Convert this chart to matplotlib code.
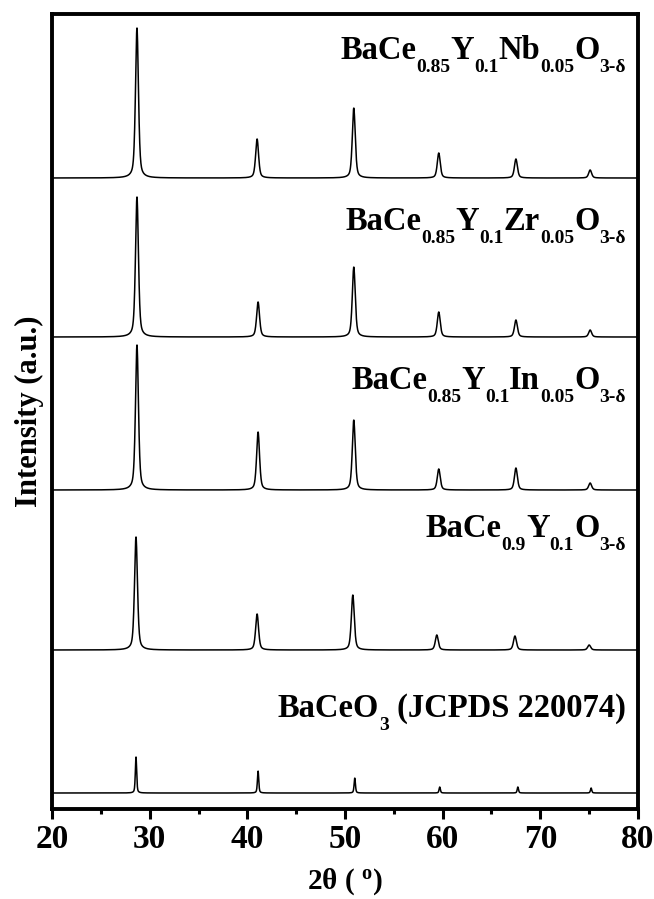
import numpy as np
import matplotlib
matplotlib.use("Agg")
import matplotlib.pyplot as plt
from matplotlib.ticker import MultipleLocator
from matplotlib.transforms import IdentityTransform

plt.rcParams['font.family'] = ['Liberation Serif', 'DejaVu Serif']
plt.rcParams['font.weight'] = 'bold'
plt.rcParams['mathtext.fontset'] = 'custom'
plt.rcParams['mathtext.rm'] = 'Liberation Serif:bold'
plt.rcParams['mathtext.bf'] = 'Liberation Serif:bold'
plt.rcParams['mathtext.it'] = 'Liberation Serif:bold'
plt.rcParams['mathtext.default'] = 'rm'

# ---- data ----
# label pieces: (text, is_subscript)
label_ref = [('BaCeO', 0), ('3', 1), (' (JCPDS 220074)', 0)]
label_y = [('BaCe', 0), ('0.9', 1), ('Y', 0), ('0.1', 1), ('O', 0), ('3-δ', 1)]
label_in = [('BaCe', 0), ('0.85', 1), ('Y', 0), ('0.1', 1), ('In', 0), ('0.05', 1), ('O', 0), ('3-δ', 1)]
label_zr = [('BaCe', 0), ('0.85', 1), ('Y', 0), ('0.1', 1), ('Zr', 0), ('0.05', 1), ('O', 0), ('3-δ', 1)]
label_nb = [('BaCe', 0), ('0.85', 1), ('Y', 0), ('0.1', 1), ('Nb', 0), ('0.05', 1), ('O', 0), ('3-δ', 1)]

offsets = [16, 159, 319, 472, 631]
peak_pos_ref = [28.6, 41.1, 51.0, 59.7, 67.7, 75.2]
peak_h_ref = [36, 22, 15, 6, 6, 5]
peak_pos_y = [28.6, 41.0, 50.8, 59.4, 67.4, 75.0]
peak_h_y = [113, 36, 55, 15, 14, 5]
peak_pos_in = [28.7, 41.1, 50.9, 59.6, 67.5, 75.1]
peak_h_in = [145, 58, 70, 21, 22, 7]
peak_pos_zr = [28.7, 41.1, 50.9, 59.6, 67.5, 75.1]
peak_h_zr = [140, 35, 70, 25, 17, 7]
peak_pos_nb = [28.7, 41.0, 50.9, 59.6, 67.5, 75.1]
peak_h_nb = [150, 39, 70, 25, 19, 8]
widths = [0.08, 0.18, 0.18, 0.18, 0.18]
label_base = [717, 537, 389, 230, 59]   # label baselines, pixels from top

labels = [label_ref, label_y, label_in, label_zr, label_nb]
positions = [peak_pos_ref, peak_pos_y, peak_pos_in, peak_pos_zr, peak_pos_nb]
heights = [peak_h_ref, peak_h_y, peak_h_in, peak_h_zr, peak_h_nb]

W, H = 654, 899
x = np.linspace(20, 80, 3000)

fig = plt.figure(figsize=(W / 100, H / 100), dpi=100)
ax = fig.add_axes([52/W, 1 - 809/H, (638-52)/W, (809-14)/H])

for pos, hts, off, w in zip(positions, heights, offsets, widths):
    y = np.zeros_like(x)
    for p, h in zip(pos, hts):
        y += h / (1 + ((x - p) / w) ** 2) * 0.5 + h * 0.5 * np.exp(-((x - p) / w) ** 2 * np.log(2))
    ax.plot(x, y + off, color='black', lw=1.1)

renderer = fig.canvas.get_renderer()


def draw_label(pieces, right_px, base_px):
    texts = []
    cur = 0.0
    for s, sub in pieces:
        fs = 14 if sub else 23.5
        dy = -13 if sub else 0
        t = fig.text(cur, H - base_px + dy, s, transform=IdentityTransform(),
                     fontsize=fs, fontweight='bold', ha='left', va='baseline')
        cur += t.get_window_extent(renderer).width
        texts.append(t)
    shift = right_px - cur
    for t in texts:
        px, py = t.get_position()
        t.set_position((px + shift, py))


for lab, lb in zip(labels, label_base):
    draw_label(lab, 626, lb)

ax.set_xlim(20, 80)
ax.set_ylim(0, 795)
ax.set_yticks([])
ax.xaxis.set_major_locator(MultipleLocator(10))
ax.xaxis.set_minor_locator(MultipleLocator(5))
ax.tick_params(axis='x', which='major', direction='out', length=7, width=2.2, labelsize=24, pad=4)
ax.tick_params(axis='x', which='minor', direction='out', length=3.5, width=2.2)
for lab in ax.get_xticklabels():
    lab.set_fontweight('bold')
for s in ax.spines.values():
    s.set_linewidth(2.8)

ax.set_xlabel(r'2θ ( $^{\mathrm{o}}$)', fontsize=21, fontweight='bold', labelpad=8)
ax.set_ylabel('Intensity (a.u.)', fontsize=22, fontweight='bold', labelpad=6)

fig.savefig('out.png', dpi=100)
